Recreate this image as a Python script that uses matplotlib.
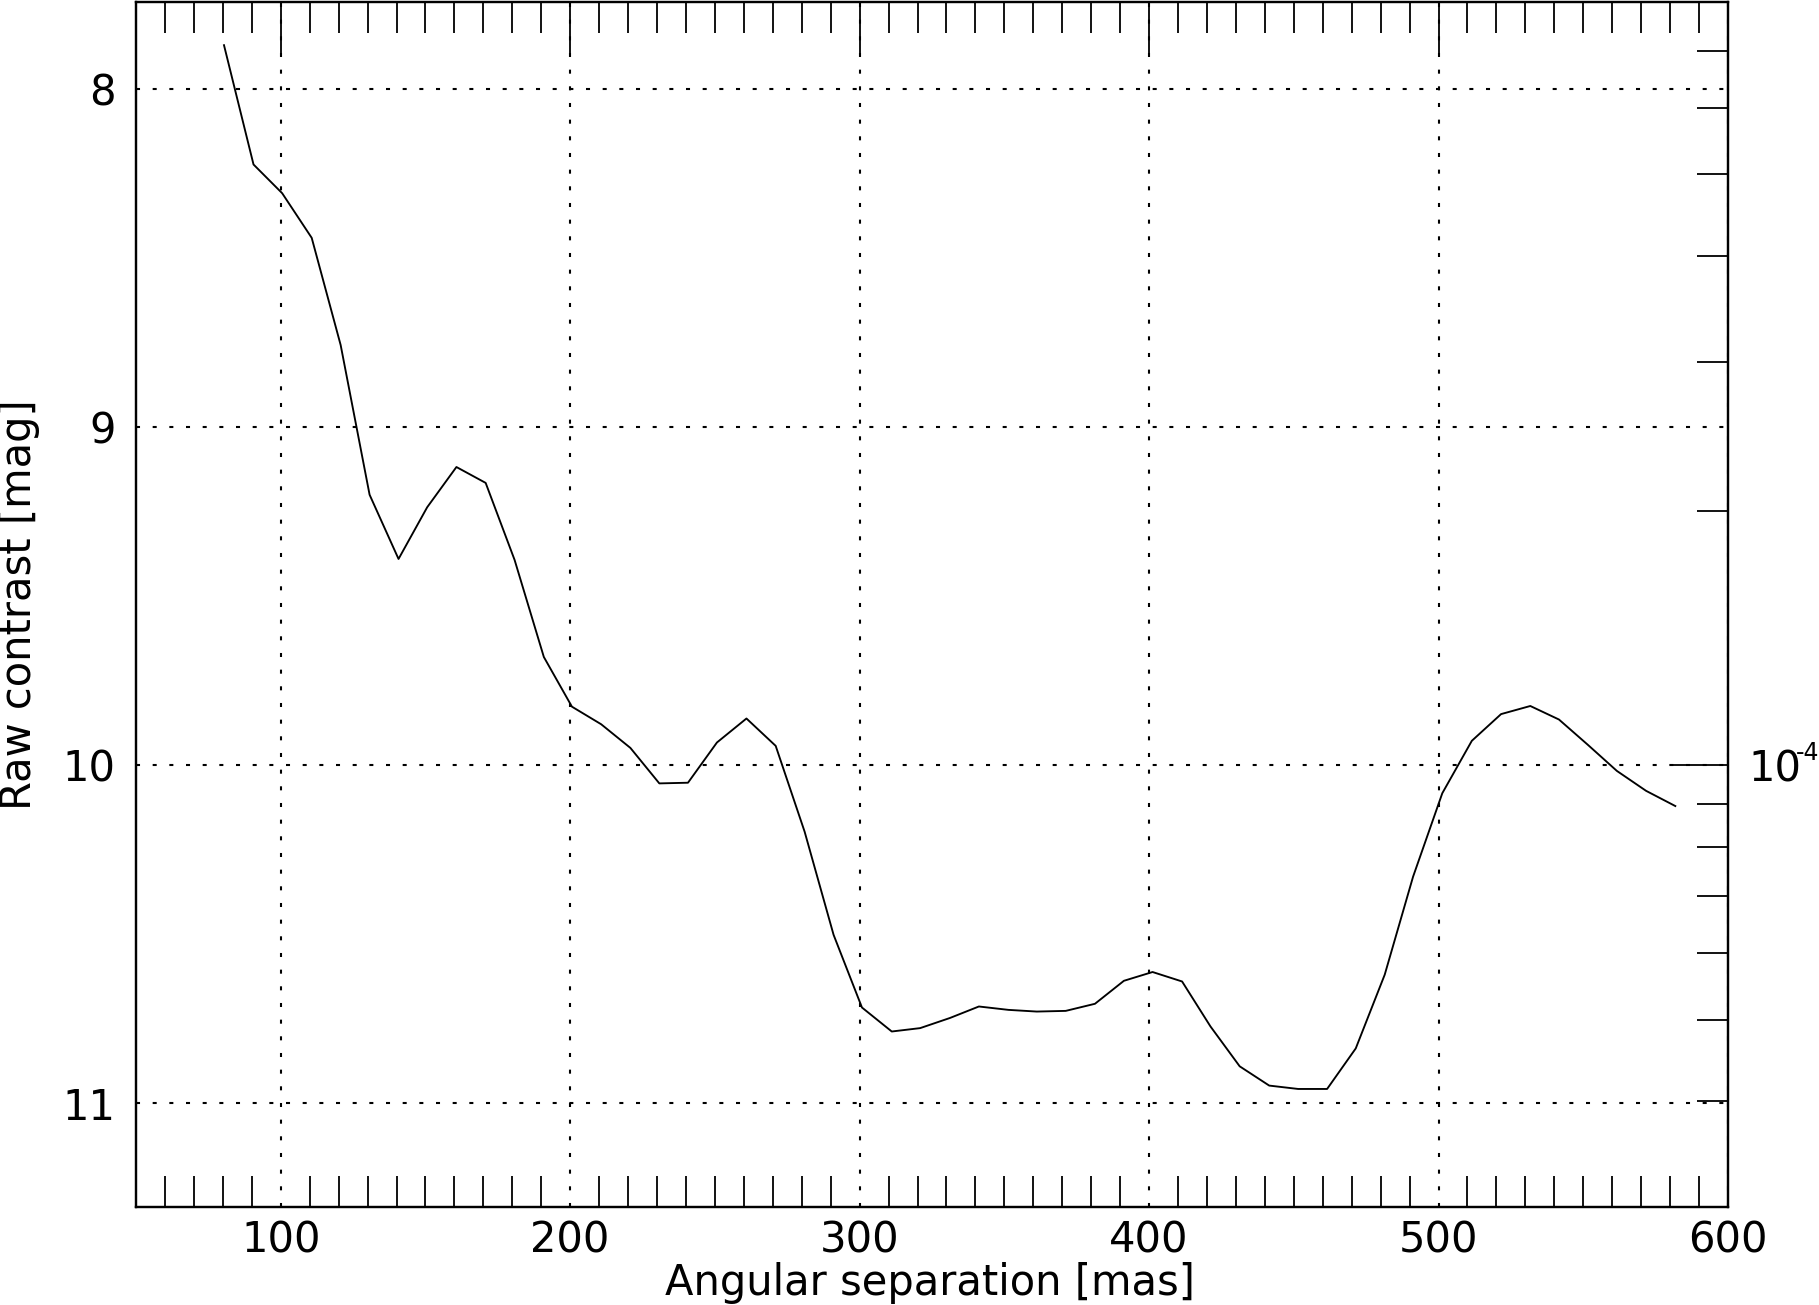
import numpy as np
import matplotlib
matplotlib.use("Agg")
import matplotlib.pyplot as plt
import matplotlib.transforms as mtransforms
from matplotlib.ticker import MultipleLocator, FixedLocator, NullFormatter, LogLocator, FuncFormatter

# Data
separation_mas = [80.4, 90.6, 100.5, 110.7, 120.7, 130.7, 140.7, 150.6, 160.7, 170.8,
                  180.8, 190.9, 200.6, 210.7, 220.8, 230.8, 240.7, 250.7, 260.9, 271.0,
                  281.0, 291.0, 300.8, 311.1, 320.9, 331.2, 341.2, 351.4, 361.2, 371.2,
                  381.3, 391.3, 401.2, 411.4, 421.2, 431.3, 441.5, 451.5, 461.5, 471.4,
                  481.4, 491.2, 501.3, 511.5, 521.6, 531.7, 541.6, 551.6, 561.6, 571.7,
                  581.8]
raw_contrast_mag = [7.870, 8.223, 8.308, 8.440, 8.757, 9.200, 9.390, 9.237, 9.118, 9.165,
                    9.393, 9.680, 9.827, 9.879, 9.949, 10.054, 10.052, 9.933, 9.862, 9.943,
                    10.197, 10.502, 10.717, 10.788, 10.778, 10.748, 10.714, 10.724, 10.729, 10.727,
                    10.706, 10.638, 10.612, 10.640, 10.773, 10.891, 10.948, 10.958, 10.958, 10.838,
                    10.620, 10.330, 10.083, 9.928, 9.849, 9.825, 9.865, 9.940, 10.017, 10.076,
                    10.121]

x_major_ticks = [100, 200, 300, 400, 500, 600]
y_major_ticks = [8, 9, 10, 11]
contrast_limits = [3e-5, 8e-4]
x_limits = [50, 600]

FS = 30

plt.rcParams['font.family'] = ['DejaVu Sans']
plt.rcParams['lines.scale_dashes'] = False

fig = plt.figure(figsize=(18.19, 13.05), dpi=100)
W, H = 1819, 1305
left, right, top, bottom = 136, 1728, 2, 1207
ax = fig.add_axes([left / W, 1 - bottom / H, (right - left) / W, (bottom - top) / H])

ax.plot(separation_mas, raw_contrast_mag, color='black', lw=1.35)

mag_lim = [-2.5 * np.log10(c) for c in contrast_limits]
ax.set_xlim(*x_limits)
ax.set_ylim(mag_lim[0], mag_lim[1])

ax.xaxis.set_major_locator(FixedLocator(x_major_ticks))
ax.xaxis.set_minor_locator(MultipleLocator(10))
ax.yaxis.set_major_locator(FixedLocator(y_major_ticks))
ax.set_xticklabels([str(v) for v in x_major_ticks])
ax.set_yticklabels([str(v) for v in y_major_ticks])

ax.tick_params(axis='x', which='major', direction='in', bottom=False, top=True,
               length=39, width=1.3, labelsize=FS, pad=9, labelbottom=True)
ax.tick_params(axis='x', which='minor', direction='in', bottom=True, top=True,
               length=22, width=1.3)
ax.tick_params(axis='y', which='both', left=False, right=False, length=0,
               labelsize=FS, pad=14.5)

ax.grid(True, which='major', color='black', lw=1.5, linestyle=(0, (2.9, 9.1)))

for s in ax.spines.values():
    s.set_linewidth(1.6)

ax.set_xlabel('Angular separation [mas]', fontsize=FS)
ax.xaxis.set_label_coords(0.4987, -0.0456)
ax.set_ylabel('Raw contrast [mag]', fontsize=FS)
ax.yaxis.set_label_coords(-0.0600, 0.5)

ax2 = ax.twinx()
ax2.set_yscale('log')
ax2.set_ylim(*contrast_limits)
ax2.yaxis.set_major_locator(LogLocator(base=10))
ax2.yaxis.set_minor_locator(LogLocator(base=10, subs=np.arange(2, 10)))
ax2.yaxis.set_major_formatter(FuncFormatter(lambda v, p: '10'))
ax2.yaxis.set_minor_formatter(NullFormatter())
ax2.tick_params(axis='y', which='major', direction='in', right=True, left=False,
                length=42, width=1.3, labelsize=FS, pad=15)
ax2.tick_params(axis='y', which='minor', direction='in', right=True, left=False,
                length=22, width=1.3)
for s in ax2.spines.values():
    s.set_linewidth(1.6)

# small exponent of the 10^-4 label, as in the reference
for v in ax2.yaxis.get_majorticklocs():
    if contrast_limits[0] <= v <= contrast_limits[1]:
        expo = int(round(np.log10(v)))
        off = mtransforms.ScaledTranslation(67.5 / 100, 5 / 100, fig.dpi_scale_trans)
        ax2.text(1.0, v, str(expo), transform=ax2.get_yaxis_transform() + off,
                 fontsize=17, ha='left', va='baseline', clip_on=False)

fig.savefig('out.png', dpi=100)
